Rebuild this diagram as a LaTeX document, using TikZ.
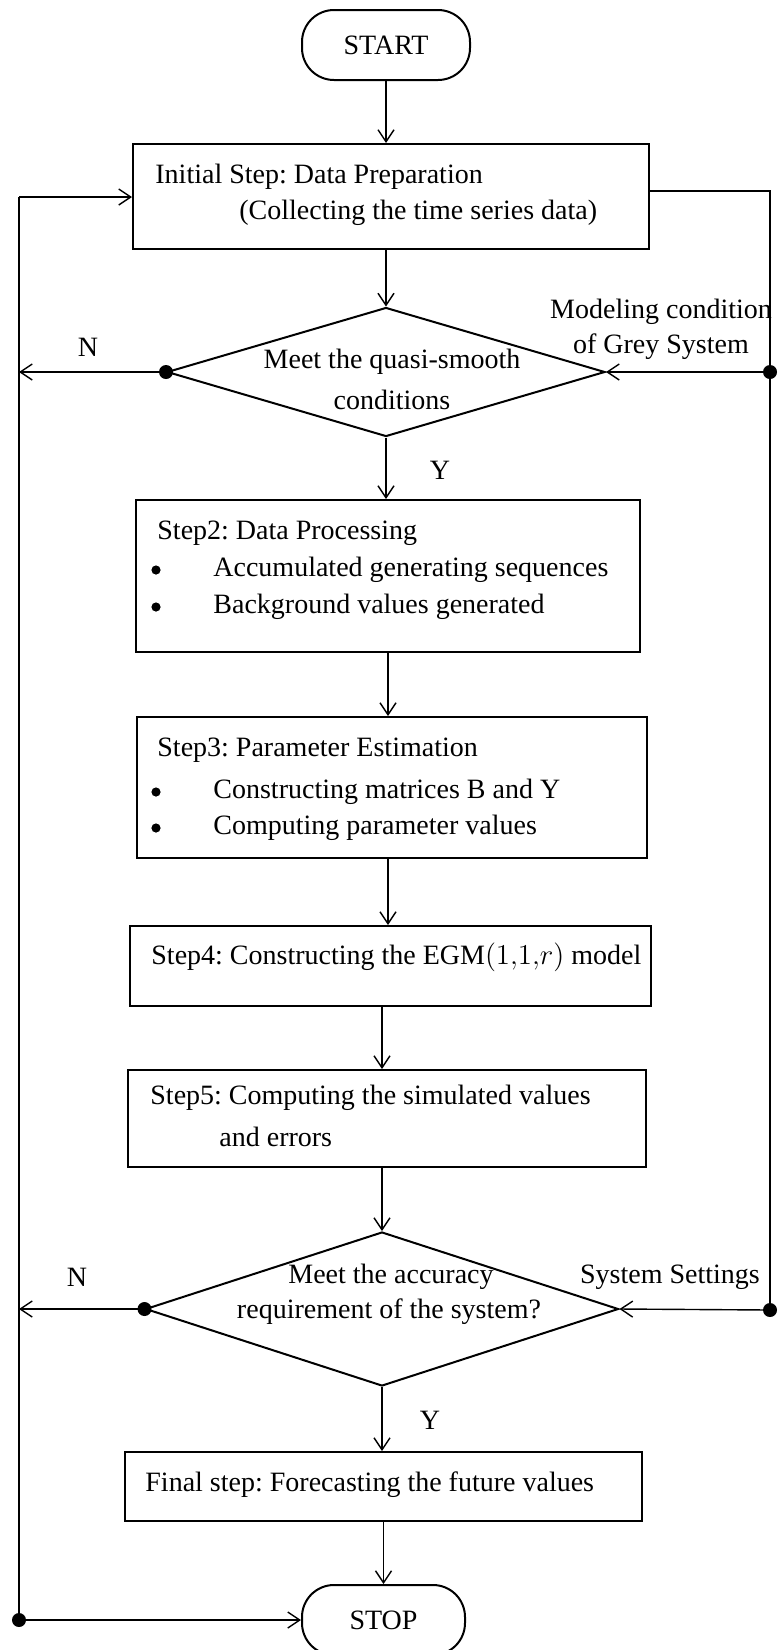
\documentclass[tikz,border=0pt]{standalone}
\usepackage{fontspec}
\setmainfont{Liberation Serif}
\usetikzlibrary{arrows.meta,shapes.geometric}
\frenchspacing
\begin{document}
\begin{tikzpicture}[x=0.5pt,y=-0.5pt,
  box/.style={draw, line width=1pt, rectangle, inner sep=0},
  term/.style={draw, line width=1pt, rounded corners=16pt, inner sep=0, font=\fontsize{14}{18}\selectfont},
  dec/.style={draw, line width=1pt, diamond, inner sep=0},
  txt/.style={inner sep=0, font=\fontsize{14}{18}\selectfont},
  bul/.style={fill, circle, inner sep=0, minimum size=4.6pt},
  arr/.style={line width=0.7pt, -{Straight Barb[length=6pt,width=8pt]}},
  ln/.style={line width=0.7pt},
  dotm/.style={fill, circle, inner sep=0, minimum size=7pt}]
\useasboundingbox (0,0) rectangle (778,1650);

% terminals and boxes
\node[term, minimum width=84pt, minimum height=35pt] (start) at (386,45) {START};
\node[box, minimum width=258pt, minimum height=52.5pt] (init) at (391,196.5) {};
\node[dec, minimum width=219pt, minimum height=64.5pt] (d1) at (386,372) {};
\node[box, minimum width=252pt, minimum height=76pt] (s2) at (388,576) {};
\node[box, minimum width=255pt, minimum height=70.5pt] (s3) at (392,787.5) {};
\node[box, minimum width=260.5pt, minimum height=40pt] (s4) at (390.5,966) {};
\node[box, minimum width=259pt, minimum height=48.5pt] (s5) at (387,1118.5) {};
\node[dec, minimum width=236.5pt, minimum height=77pt] (d2) at (382,1309) {};
\node[box, minimum width=258.5pt, minimum height=34.5pt] (fin) at (383.5,1486.5) {};
\node[term, minimum width=81.5pt, minimum height=35pt] (stop) at (383.5,1620) {STOP};

% texts
\node[txt, anchor=west] (i1) at (155,177) {Initial Step: Data Preparation};
\node[txt, anchor=west] (i2) at (239,213) {(Collecting the time series data)};
\node[txt] (d1a) at (392,362) {Meet the quasi-smooth};
\node[txt] (d1b) at (392,400) {conditions};
\node[txt] (n1) at (88,347) {N};
\node[txt] (mc1) at (661,312) {Modeling condition};
\node[txt] (mc2) at (661,347) {of Grey System};
\node[txt] (y1) at (440,470) {Y};
\node[txt, anchor=west] (s2a) at (157,533) {Step2: Data Processing};
\node[bul] (s2b) at (156,570) {};
\node[txt, anchor=west] (s2c) at (213,570) {Accumulated generating sequences};
\node[bul] (s2d) at (156,607) {};
\node[txt, anchor=west] (s2e) at (213,607) {Background values generated};
\node[txt, anchor=west] (s3a) at (157,750) {Step3: Parameter Estimation};
\node[bul] (s3b) at (156,792) {};
\node[txt, anchor=west] (s3c) at (213,792) {Constructing matrices B and Y};
\node[bul] (s3d) at (156,828) {};
\node[txt, anchor=west] (s3e) at (213,828) {Computing parameter values};
\node[txt, anchor=west] (s4a) at (151,957) {Step4: Constructing the \(\mathrm{EGM}(1{,}1{,}r)\) model};
\node[txt, anchor=west] (s5a) at (150,1098) {Step5: Computing the simulated values};
\node[txt, anchor=west] (s5b) at (219,1137) {and errors};
\node[txt] (d2a) at (391,1277) {Meet the accuracy};
\node[txt] (d2b) at (389,1312) {requirement of the system?};
\node[txt] (n2) at (77,1277) {N};
\node[txt] (ss) at (670,1277) {System Settings};
\node[txt] (y2) at (430,1420) {Y};
\node[txt, anchor=west] (fa) at (145,1485) {Final step: Forecasting the future values};

% main flow
\draw[arr] (start.south) -- (start.south |- init.north);
\draw[arr] (init.south -| d1.north) -- (d1.north);
\draw[arr] (d1.south) -- (d1.south |- s2.north);
\draw[arr] (s2.south) -- (s2.south |- s3.north);
\draw[arr] (s3.south -| s2.south) -- (s2.south |- s4.north);
\draw[arr] (s4.south -| d2.north) -- (d2.north |- s5.north);
\draw[arr] (s5.south -| d2.north) -- (d2.north);
\draw[arr] (d2.south) -- (d2.south |- fin.north);
\draw[arr] (fin.south) -- (fin.south |- stop.north);

% left loop
\coordinate (Ltop) at (19,197);
\coordinate (Lbot) at (19,1620);
\draw[ln] (Lbot) -- (Ltop);
\draw[arr] (Ltop) -- (Ltop -| init.west);
\draw[arr] (d1.west) -- (d1.west -| Ltop);
\draw[arr] (d2.west) -- (d2.west -| Ltop);
\draw[arr] (Lbot) -- (Lbot -| stop.west);
\node[dotm] (dl1) at (d1.west) {};
\node[dotm] (dl2) at (d2.west) {};
\node[dotm] (dl3) at (Lbot) {};

% right line
\coordinate (Rtop) at (770,191);
\coordinate (Rbot) at (770,1310);
\draw[ln] (init.east |- Rtop) -- (Rtop) -- (Rbot);
\draw[arr] (Rtop |- d1.east) -- (d1.east);
\draw[arr] (Rbot) -- (d2.east);
\node[dotm] (dr1) at (Rtop |- d1.east) {};
\node[dotm] (dr2) at (Rbot) {};
\end{tikzpicture}
\end{document}
